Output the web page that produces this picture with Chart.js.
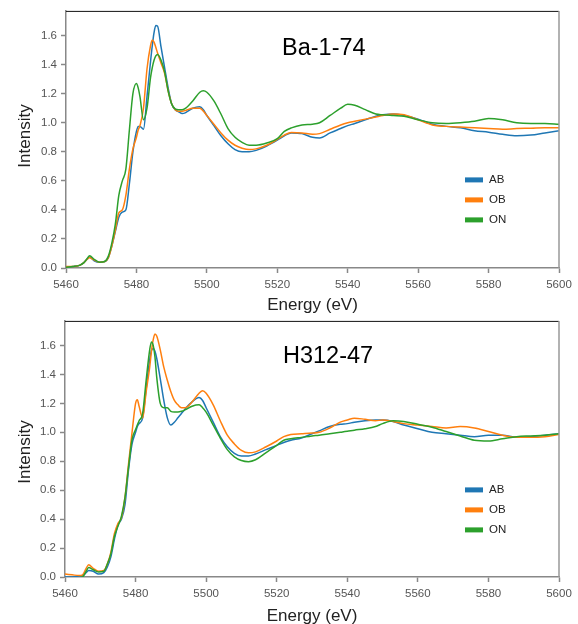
<!DOCTYPE html>
<html><head><meta charset="utf-8">
<script src="https://cdn.jsdelivr.net/npm/chart.js@4.4.0/dist/chart.umd.min.js"></script>
<style>
html,body{margin:0;padding:0;background:#fff;width:578px;height:624px;overflow:hidden}
canvas{position:absolute;left:0}
#c1{top:0}
#c2{top:310px}
</style></head>
<body>
<canvas id="c1" width="578" height="314"></canvas>
<canvas id="c2" width="578" height="314"></canvas>
<script>
// ---- data ----
const energy = [5460,5462,5464,5465,5466,5466.7,5468,5469.5,5471,5472,5473,5474,5475,5476,5477,5478,5479,5480,5480.5,5481,5482,5483,5484,5484.5,5485,5485.5,5486,5487,5488,5489,5490,5491,5492,5493,5494,5496,5498,5499,5500,5502,5504,5506,5508,5510,5512,5514,5517,5520,5522,5524,5527,5530,5532,5535,5538,5540,5542,5545,5548,5550,5553,5556,5560,5564,5568,5572,5576,5580,5584,5588,5592,5596,5600];

const seriesNames = ['AB','OB','ON'];
const seriesColors = ['#1f77b4','#ff7f0e','#2ca02c'];
const panelTitles = ['Ba-1-74','H312-47'];
const xTicks = [5460,5480,5500,5520,5540,5560,5580,5600];
const yTicks = [0,0.2,0.4,0.6,0.8,1.0,1.2,1.4,1.6];

// Ba-1-74
const ba_AB = [0.005,0.01,0.02,0.035,0.06,0.075,0.05,0.04,0.045,0.07,0.15,0.25,0.35,0.385,0.40,0.58,0.80,0.94,0.975,0.975,0.955,1.18,1.42,1.53,1.62,1.67,1.665,1.52,1.38,1.24,1.13,1.09,1.075,1.063,1.07,1.10,1.11,1.09,1.05,0.98,0.91,0.855,0.815,0.80,0.80,0.81,0.84,0.88,0.91,0.93,0.925,0.90,0.895,0.93,0.96,0.98,0.995,1.02,1.045,1.055,1.06,1.05,1.025,0.99,0.975,0.965,0.945,0.935,0.92,0.91,0.915,0.93,0.945];
const ba_OB = [0.01,0.01,0.02,0.035,0.06,0.07,0.055,0.04,0.045,0.07,0.15,0.26,0.38,0.40,0.50,0.68,0.82,0.90,0.95,0.98,1.10,1.37,1.53,1.57,1.555,1.52,1.48,1.41,1.34,1.22,1.13,1.09,1.08,1.08,1.085,1.10,1.10,1.08,1.05,0.99,0.93,0.88,0.845,0.825,0.815,0.82,0.845,0.885,0.915,0.933,0.93,0.92,0.925,0.955,0.985,1.0,1.01,1.025,1.04,1.05,1.06,1.055,1.02,0.985,0.975,0.97,0.965,0.96,0.955,0.96,0.962,0.965,0.965];
const ba_ON = [0.005,0.01,0.02,0.035,0.065,0.085,0.06,0.04,0.045,0.08,0.17,0.30,0.50,0.60,0.68,0.95,1.20,1.27,1.24,1.18,1.02,1.10,1.31,1.38,1.43,1.46,1.47,1.43,1.35,1.22,1.13,1.095,1.09,1.09,1.10,1.15,1.21,1.22,1.21,1.15,1.06,0.96,0.90,0.865,0.845,0.845,0.86,0.89,0.94,0.965,0.985,0.99,1.0,1.05,1.10,1.127,1.12,1.09,1.06,1.055,1.05,1.045,1.02,1.0,0.995,1.0,1.01,1.03,1.02,1.0,0.995,0.995,0.99];

// H312-47
const h_AB = [0.0,0.0,0.005,0.01,0.03,0.045,0.04,0.02,0.03,0.07,0.14,0.26,0.36,0.40,0.50,0.74,0.92,1.0,1.04,1.06,1.10,1.30,1.50,1.565,1.58,1.56,1.51,1.37,1.22,1.10,1.05,1.07,1.10,1.13,1.16,1.21,1.24,1.22,1.17,1.07,0.97,0.90,0.855,0.836,0.836,0.85,0.88,0.91,0.93,0.945,0.96,0.99,1.01,1.04,1.055,1.06,1.07,1.08,1.085,1.085,1.075,1.05,1.025,1.0,0.99,0.98,0.97,0.98,0.98,0.965,0.97,0.98,0.99];
const h_OB = [0.02,0.015,0.01,0.015,0.06,0.085,0.06,0.04,0.045,0.09,0.17,0.30,0.37,0.41,0.55,0.78,1.0,1.20,1.225,1.18,1.10,1.28,1.45,1.56,1.64,1.68,1.665,1.57,1.45,1.36,1.28,1.22,1.19,1.17,1.17,1.21,1.27,1.287,1.27,1.19,1.08,0.98,0.92,0.875,0.858,0.865,0.90,0.94,0.97,0.985,0.99,0.995,1.0,1.03,1.07,1.085,1.098,1.09,1.08,1.085,1.075,1.06,1.05,1.04,1.03,1.04,1.03,1.005,0.98,0.965,0.965,0.97,0.985];
const h_ON = [-0.015,-0.01,-0.005,0.0,0.04,0.065,0.05,0.035,0.04,0.09,0.16,0.28,0.35,0.42,0.55,0.76,0.95,1.02,1.05,1.08,1.13,1.36,1.57,1.625,1.60,1.52,1.38,1.20,1.17,1.17,1.145,1.14,1.14,1.145,1.155,1.18,1.19,1.17,1.14,1.05,0.96,0.88,0.83,0.805,0.797,0.81,0.86,0.91,0.945,0.955,0.965,0.975,0.98,0.99,1.0,1.007,1.015,1.025,1.04,1.06,1.08,1.075,1.055,1.035,1.005,0.975,0.945,0.94,0.955,0.97,0.975,0.98,0.99];

const FONT = '"Liberation Sans", Arial, sans-serif';

const deco = {
  id: 'deco',
  afterDraw(chart, args, o) {
    const ctx = chart.ctx, a = chart.chartArea;
    ctx.save();
    // frame top & right
    ctx.strokeStyle = '#111'; ctx.lineWidth = 1;
    ctx.beginPath(); ctx.moveTo(a.left, a.top + 0.5); ctx.lineTo(a.right, a.top + 0.5); ctx.stroke();
    ctx.strokeStyle = '#999'; ctx.lineWidth = 1.5;
    ctx.beginPath(); ctx.moveTo(a.right, a.top); ctx.lineTo(a.right, a.bottom); ctx.stroke();
    // panel title
    ctx.fillStyle = '#000'; ctx.font = '23.5px ' + FONT; ctx.textAlign = 'left'; ctx.textBaseline = 'alphabetic';
    ctx.fillText(o.title, o.titleX, o.titleY);
    // legend
    chart.data.datasets.forEach((d, i) => {
      const cy = a.top + 169 + 20 * i;
      ctx.fillStyle = d.borderColor;
      ctx.fillRect(465, cy - 2.5, 18, 5);
      ctx.fillStyle = '#222'; ctx.font = '11.5px ' + FONT; ctx.textBaseline = 'middle';
      ctx.fillText(d.label, 489, cy);
    });
    // axis titles
    ctx.fillStyle = '#222'; ctx.font = '17px ' + FONT; ctx.textAlign = 'center'; ctx.textBaseline = 'alphabetic';
    ctx.fillText('Energy (eV)', (a.left + a.right) / 2, a.bottom + o.xTitleOff);
    ctx.save();
    ctx.translate(25, o.yTitleY); ctx.rotate(-Math.PI / 2);
    ctx.textBaseline = 'middle';
    ctx.fillText('Intensity', 0, 0);
    ctx.restore();
    ctx.restore();
  }
};

function makeChart(id, values, cfg) {
  const datasets = values.map((vals, i) => ({
    label: seriesNames[i],
    data: energy.map((e, k) => ({ x: e, y: vals[k] })),
    borderColor: seriesColors[i],
    backgroundColor: seriesColors[i],
    borderWidth: 1.5,
    pointRadius: 0,
    cubicInterpolationMode: 'monotone',
    fill: false,
    order: 3 - i
  }));
  return new Chart(document.getElementById(id), {
    type: 'line',
    data: { datasets },
    plugins: [deco],
    options: {
      responsive: false,
      animation: false,
      layout: { padding: { left: 0, right: 19, top: cfg.top, bottom: 0 } },
      plugins: {
        legend: { display: false },
        tooltip: { enabled: false },
        deco: cfg.deco
      },
      scales: {
        x: {
          type: 'linear', min: 5460, max: 5600,
          afterBuildTicks: s => { s.ticks = xTicks.map(v => ({ value: v })); },
          afterFit: s => { s.height = cfg.xHeight; },
          border: { display: true, color: '#888', width: 1.5 },
          grid: { display: true, drawOnChartArea: false, drawTicks: true, tickLength: 5, tickColor: '#888', tickWidth: 1.5 },
          ticks: { color: '#555', font: { family: FONT, size: 11.5 }, padding: 5, maxRotation: 0, callback: v => String(v) }
        },
        y: {
          type: 'linear', min: 0, max: 1.77,
          afterBuildTicks: s => { s.ticks = yTicks.map(v => ({ value: v })); },
          afterFit: s => { s.width = cfg.yWidth; },
          border: { display: true, color: '#888', width: 1.5 },
          grid: { display: true, drawOnChartArea: false, drawTicks: true, tickLength: 5, tickColor: '#888', tickWidth: 1.5 },
          ticks: { color: '#555', font: { family: FONT, size: 11.5 }, padding: 4, callback: v => Number(v).toFixed(1) }
        }
      }
    }
  });
}

makeChart('c1', [ba_AB, ba_OB, ba_ON], {
  top: 10, xHeight: 46, yWidth: 66,
  deco: { title: panelTitles[0], titleX: 282, titleY: 55, xTitleOff: 42, yTitleY: 136 }
});
makeChart('c2', [h_AB, h_OB, h_ON], {
  top: 8, xHeight: 47, yWidth: 65,
  deco: { title: panelTitles[1], titleX: 283, titleY: 53, xTitleOff: 43.5, yTitleY: 142 }
});
</script>
</body></html>
